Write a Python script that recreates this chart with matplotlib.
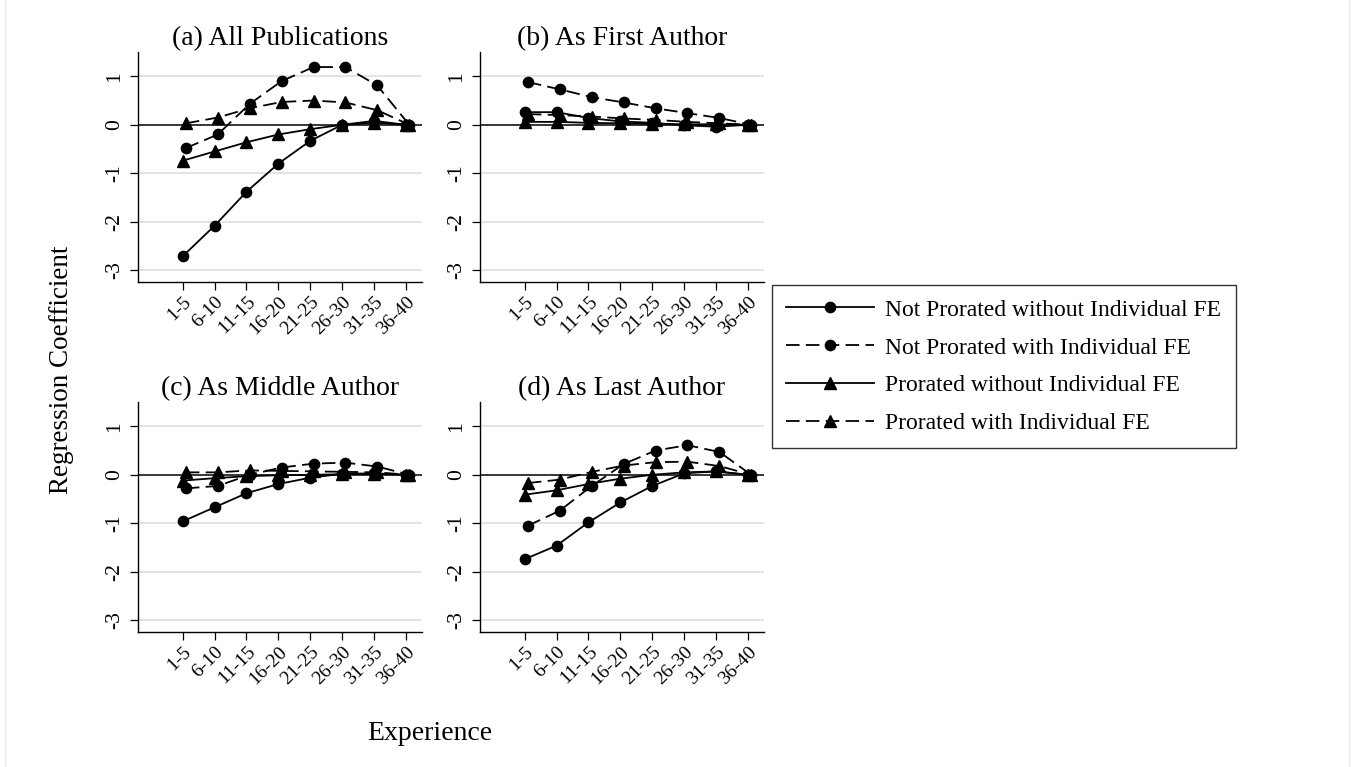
"""Experience profile of publications — 4 panels, Stata-like styling."""
import matplotlib
matplotlib.use("Agg")
import matplotlib.pyplot as plt
from matplotlib.lines import Line2D
import numpy as np

matplotlib.rcParams["font.family"] = ["Liberation Serif", "DejaVu Serif"]

experience = ["1-5", "6-10", "11-15", "16-20", "21-25", "26-30", "31-35", "36-40"]

series_labels = [
    "Not Prorated without Individual FE",
    "Not Prorated with Individual FE",
    "Prorated without Individual FE",
    "Prorated with Individual FE",
]

panel_titles = ["(a) All Publications", "(b) As First Author",
                "(c) As Middle Author", "(d) As Last Author"]

# (a) All Publications
all_np_nofe = [-2.71, -2.08, -1.38, -0.80, -0.33, 0.00, 0.08, 0.00]
all_np_fe = [-0.48, -0.20, 0.43, 0.90, 1.19, 1.19, 0.81, 0.00]
all_pr_nofe = [-0.74, -0.55, -0.36, -0.20, -0.09, 0.00, 0.04, 0.00]
all_pr_fe = [0.03, 0.15, 0.34, 0.47, 0.50, 0.46, 0.30, 0.00]

# (b) As First Author
first_np_nofe = [0.26, 0.26, 0.14, 0.07, 0.04, -0.01, -0.04, 0.00]
first_np_fe = [0.88, 0.73, 0.57, 0.46, 0.34, 0.24, 0.14, 0.00]
first_pr_nofe = [0.06, 0.06, 0.04, 0.03, 0.02, 0.01, 0.01, 0.00]
first_pr_fe = [0.22, 0.20, 0.17, 0.13, 0.10, 0.06, 0.03, 0.00]

# (c) As Middle Author
mid_np_nofe = [-0.96, -0.67, -0.38, -0.19, -0.06, 0.02, 0.03, 0.00]
mid_np_fe = [-0.28, -0.23, 0.00, 0.15, 0.23, 0.25, 0.17, 0.00]
mid_pr_nofe = [-0.12, -0.07, -0.03, -0.01, 0.00, 0.01, 0.02, 0.00]
mid_pr_fe = [0.05, 0.05, 0.09, 0.08, 0.07, 0.06, 0.05, 0.00]

# (d) As Last Author
last_np_nofe = [-1.74, -1.46, -0.98, -0.57, -0.23, 0.03, 0.07, 0.00]
last_np_fe = [-1.05, -0.74, -0.23, 0.22, 0.50, 0.61, 0.47, 0.00]
last_pr_nofe = [-0.41, -0.32, -0.19, -0.08, 0.00, 0.05, 0.07, 0.00]
last_pr_fe = [-0.17, -0.10, 0.06, 0.19, 0.26, 0.27, 0.18, 0.00]

panels = [
    (all_np_nofe, all_np_fe, all_pr_nofe, all_pr_fe),
    (first_np_nofe, first_np_fe, first_pr_nofe, first_pr_fe),
    (mid_np_nofe, mid_np_fe, mid_pr_nofe, mid_pr_fe),
    (last_np_nofe, last_np_fe, last_pr_nofe, last_pr_fe),
]

W, H = 1354, 767
# (left, top) in pixels for each panel
corners = [(138, 52), (480, 52), (138, 402), (480, 402)]
AW, AH = 284, 230

DASH = (0, (7.5, 3.5))
styles = [
    dict(marker="o", linestyle="-", ms=7.4),
    dict(marker="o", linestyle=DASH, ms=7.4),
    dict(marker="^", linestyle="-", ms=8),
    dict(marker="^", linestyle=DASH, ms=8),
]
offsets = [0.0, 0.1, 0.0, 0.1]

fig = plt.figure(figsize=(W / 100, H / 100), dpi=100)
fig.patch.set_facecolor("white")

x = np.arange(len(experience))
for i, (title, data) in enumerate(zip(panel_titles, panels)):
    lx, ty = corners[i]
    ax = fig.add_axes([lx / W, 1 - (ty + AH) / H, AW / W, AH / H])
    for yv in [1, -1, -2, -3]:
        ax.axhline(yv, color="#e4e4e4", lw=1.4, zorder=0)
    ax.axhline(0, color="black", lw=1.1, zorder=1)
    for vals, st, off in zip(data, styles, offsets):
        ax.plot(x + off, vals, color="black", lw=1.3, mfc="black", mec="black",
                zorder=3, **st)
    ax.set_xlim(-1.4, 7.5)
    ax.set_ylim(-3.24, 1.5)
    ax.set_yticks([-3, -2, -1, 0, 1])
    ax.set_yticklabels(["-3", "-2", "-1", "0", "1"], rotation=90, va="center")
    ax.set_xticks(x)
    ax.set_xticklabels(experience, rotation=45, ha="right", rotation_mode="anchor")
    ax.tick_params(axis="both", length=6, width=0.9, direction="out", color="black")
    ax.tick_params(axis="x", labelsize=14, pad=2)
    ax.tick_params(axis="y", labelsize=15.5, pad=4)
    for s in ["top", "right"]:
        ax.spines[s].set_visible(False)
    for s in ["left", "bottom"]:
        ax.spines[s].set_linewidth(1.0)
    ax.set_title(title, fontsize=20, pad=5)

handles = [Line2D([], [], color="black", lw=1.3, mfc="black", mec="black", **st)
           for st in styles]
leg = fig.legend(handles, series_labels, loc="upper left",
                 bbox_to_anchor=(772 / W, 1 - 285 / H), fontsize=17,
                 frameon=True, fancybox=False, edgecolor="black",
                 handlelength=3.7, handletextpad=0.5, labelspacing=0.69,
                 borderpad=0.6, borderaxespad=0)
leg.get_frame().set_linewidth(1.0)

fig.text(62 / W, 1 - 370 / H, "Regression Coefficient", rotation=90,
         ha="center", va="center", fontsize=19.5)
fig.text(430 / W, 1 - 733 / H, "Experience", ha="center", va="center", fontsize=20)

# faint frame edges as in the source image
for xe in [5, 1349]:
    fig.add_artist(Line2D([xe / W, xe / W], [0, 1], color="#ececec", lw=1.0))

fig.savefig("out.png", dpi=100)
